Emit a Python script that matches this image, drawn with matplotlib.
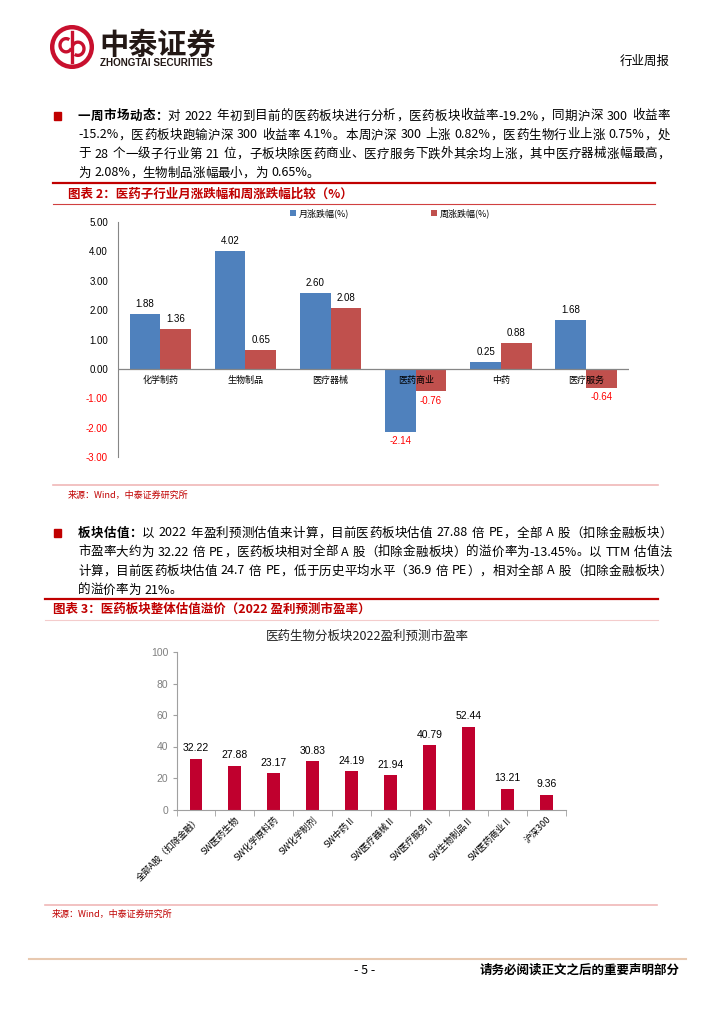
import re
import numpy as np
import matplotlib
matplotlib.use('Agg')
import matplotlib.pyplot as plt
from matplotlib.lines import Line2D
from matplotlib.patches import Circle, Arc, Rectangle

plt.rcParams['font.family'] = ['Noto Sans CJK SC', 'DejaVu Sans']
plt.rcParams['axes.unicode_minus'] = False

# chart 1: sub-sector monthly / weekly change (%)
cats1 = ['化学制药', '生物制品', '医疗器械', '医药商业', '中药', '医疗服务']
month_chg = [1.88, 4.02, 2.60, -2.14, 0.25, 1.68]
week_chg = [1.36, 0.65, 2.08, -0.76, 0.88, -0.64]

# chart 2: 2022 forecast PE by sub-sector
cats2 = ['全部A股（扣除金融）', 'SW医药生物', 'SW化学原料药', 'SW化学制剂', 'SW中药Ⅱ',
         'SW医疗器械Ⅱ', 'SW医疗服务Ⅱ', 'SW生物制品Ⅱ', 'SW医药商业Ⅱ', '沪深300']
pe_2022 = [32.22, 27.88, 23.17, 30.83, 24.19, 21.94, 40.79, 52.44, 13.21, 9.36]

para1 = [
    [('一周市场动态：', 'bold'), ('对 2022 年初到目前的医药板块进行分析，医药板块收益率-19.2%，同期沪深 300 收益率', 'normal')],
    [('-15.2%，医药板块跑输沪深 300 收益率 4.1%。本周沪深 300 上涨 0.82%，医药生物行业上涨 0.75%，处', 'normal')],
    [('于 28 个一级子行业第 21 位，子板块除医药商业、医疗服务下跌外其余均上涨，其中医疗器械涨幅最高，', 'normal')],
    [('为 2.08%，生物制品涨幅最小，为 0.65%。', 'normal')],
]
para2 = [
    [('板块估值：', 'bold'), ('以 2022 年盈利预测估值来计算，目前医药板块估值 27.88 倍 PE，全部 A 股（扣除金融板块）', 'normal')],
    [('市盈率大约为 32.22 倍 PE，医药板块相对全部 A 股（扣除金融板块）的溢价率为-13.45%。以 TTM 估值法', 'normal')],
    [('计算，目前医药板块估值 24.7 倍 PE，低于历史平均水平（36.9 倍 PE），相对全部 A 股（扣除金融板块）', 'normal')],
    [('的溢价率为 21%。', 'normal')],
]

W, H = 724, 1024
RED = '#C00000'
fig = plt.figure(figsize=(7.24, 10.24), dpi=100)
renderer = fig.canvas.get_renderer()


def fx(x):
    return x / W


def fy(y):
    return 1 - y / H


def hline(y, x0, x1, color, lw):
    fig.add_artist(Line2D([fx(x0), fx(x1)], [fy(y), fy(y)], color=color, lw=lw,
                          transform=fig.transFigure))


def text_line(y, x0, x1, parts, size=9, justify=True):
    # place tokens one by one so the line can be justified like the report
    toks = []
    for s, weight in parts:
        for m in re.finditer(r'[A-Za-z0-9.%\-]+| |.', s):
            toks.append((m.group(), weight))
    objs, widths = [], []
    for t, weight in toks:
        if t == ' ':
            objs.append(None)
            widths.append(size * 0.28 * 100 / 72)
            continue
        o = fig.text(0, fy(y), t, fontsize=size, fontweight=weight, va='center', ha='left')
        widths.append(o.get_window_extent(renderer).width)
        objs.append(o)
    gap = 0
    if justify and len(toks) > 1:
        gap = (x1 - x0 - sum(widths)) / (len(toks) - 1)
    x = x0
    for o, w in zip(objs, widths):
        if o is not None:
            o.set_x(fx(x))
        x += w + gap


def bullet(y):
    fig.add_artist(Rectangle((fx(54), fy(y + 4)), 7 / W, 8 / H, color=RED,
                             transform=fig.transFigure))


# header
ax_logo = fig.add_axes([fx(50), fy(69), 44 / W, 44 / H])
ax_logo.set_xlim(-1, 1)
ax_logo.set_ylim(-1, 1)
ax_logo.axis('off')
ax_logo.add_patch(Circle((0, 0), 0.9, fill=False, lw=3.2, color='#C8102E'))
ax_logo.add_patch(Arc((-0.27, 0.08), 0.55, 0.6, theta1=60, theta2=330, lw=2.4, color='#C8102E'))
ax_logo.add_patch(Arc((0.27, -0.08), 0.55, 0.6, theta1=240, theta2=510, lw=2.4, color='#C8102E'))
ax_logo.plot([0, 0], [-0.7, 0.7], color='#C8102E', lw=2.4)
fig.text(fx(99), fy(45), '中泰证券', fontsize=21, fontweight='bold', color='#231815', va='center')
fig.text(fx(100), fy(63.5), 'ZHONGTAI SECURITIES', fontsize=7.1, fontweight='bold',
         family='Liberation Sans', color='#231815', va='center')
fig.text(fx(670), fy(61), '行业周报', fontsize=9, ha='right', va='center')

# paragraph 1
bullet(116)
for i, line in enumerate(para1):
    text_line(116 + 19 * i, 78, 670, line, justify=i < len(para1) - 1)

# figure 2 title
hline(183, 53, 655, RED, 1.6)
fig.text(fx(68), fy(194), '图表 2：医药子行业月涨跌幅和周涨跌幅比较（%）', fontsize=9,
         fontweight='bold', color=RED, va='center')
hline(203.5, 53, 655, '#D04040', 0.8)

ax1 = fig.add_axes([fx(117.7), fy(457), (628.6 - 117.7) / W, (457 - 222) / H])
x = np.arange(len(cats1))
bw = 0.36
ax1.bar(x - bw / 2, month_chg, bw, color='#4F81BD', label='月涨跌幅(%)', zorder=2)
ax1.bar(x + bw / 2, week_chg, bw, color='#C0504D', label='周涨跌幅(%)', zorder=2)
ax1.set_xlim(-0.5, len(cats1) - 0.5)
ax1.set_ylim(-3, 5)
yt = np.arange(-3, 6, 1)
ax1.set_yticks(yt)
ax1.set_yticklabels(['%.2f' % v for v in yt], fontsize=7, family='Liberation Sans')
for lbl, v in zip(ax1.get_yticklabels(), yt):
    if v < 0:
        lbl.set_color('red')
ax1.tick_params(axis='y', length=0, pad=7)
ax1.set_xticks([])
for s in ['top', 'right', 'bottom']:
    ax1.spines[s].set_visible(False)
ax1.spines['left'].set_color('#868686')
ax1.axhline(0, color='#868686', lw=0.9, zorder=3)
for i, c in enumerate(cats1):
    ax1.text(i, -0.4, c, ha='center', va='center', fontsize=6.5, zorder=4)
for xs, vals in [(x - bw / 2, month_chg), (x + bw / 2, week_chg)]:
    for xi, v in zip(xs, vals):
        ax1.annotate('%.2f' % v, (xi, v), xytext=(0, 7 if v >= 0 else -7),
                     textcoords='offset points', ha='center', va='center', fontsize=7,
                     family='Liberation Sans', color='black' if v >= 0 else 'red')
ax1.legend(loc='center', bbox_to_anchor=(fx(390), fy(213)), bbox_transform=fig.transFigure,
           ncol=2, frameon=False, handlelength=0.7, handleheight=0.7, columnspacing=9,
           handletextpad=0.3, fontsize=6.5)

hline(485, 53, 658, '#F0B8B8', 1.2)
fig.text(fx(68), fy(495), '来源：Wind，中泰证券研究所', fontsize=6.5, color=RED, va='center')

# paragraph 2
bullet(533)
for i, line in enumerate(para2):
    text_line(533 + 19 * i, 78, 672, line, justify=i < len(para2) - 1)

# figure 3 title
hline(599, 45, 658, RED, 1.6)
fig.text(fx(53), fy(609), '图表 3：医药板块整体估值溢价（2022 盈利预测市盈率）', fontsize=9,
         fontweight='bold', color=RED, va='center')
hline(620, 45, 658, '#F4CCCC', 0.8)

fig.text(fx(367), fy(636), '医药生物分板块2022盈利预测市盈率', ha='center', va='center',
         fontsize=9, color='#222222')

ax2 = fig.add_axes([fx(176.5), fy(809.5), (566 - 176.5) / W, (809.5 - 652) / H])
x2 = np.arange(len(cats2))
ax2.bar(x2, pe_2022, 0.33, color='#C0002E', zorder=2)
ax2.set_xlim(-0.5, len(cats2) - 0.5)
ax2.set_ylim(0, 100)
ax2.set_yticks(np.arange(0, 101, 20))
ax2.set_yticklabels([str(v) for v in range(0, 101, 20)], family='Liberation Sans')
ax2.tick_params(axis='y', length=3, color='#A0A0A0', labelsize=7.5, labelcolor='#808080', pad=3)
ax2.set_xticks(x2)
ax2.set_xticklabels(cats2, rotation=45, ha='right', rotation_mode='anchor', fontsize=6.5)
ax2.tick_params(axis='x', which='major', length=0, pad=4)
ax2.set_xticks(np.arange(-0.5, len(cats2)), minor=True)
ax2.tick_params(axis='x', which='minor', length=4, color='#A0A0A0')
for s in ['top', 'right']:
    ax2.spines[s].set_visible(False)
for s in ['left', 'bottom']:
    ax2.spines[s].set_color('#A0A0A0')
for xi, v in zip(x2, pe_2022):
    ax2.annotate('%.2f' % v, (xi, v), xytext=(0, 7.5), textcoords='offset points',
                 ha='center', va='center', fontsize=7.5, family='Liberation Sans')

hline(905, 45, 657, '#F0B8B8', 1.2)
fig.text(fx(52), fy(914), '来源：Wind，中泰证券研究所', fontsize=6.5, color=RED, va='center')

# footer
hline(959, 29, 686, '#E8C9B0', 1.5)
fig.text(fx(365), fy(970), '- 5 -', fontsize=9, ha='center', va='center')
fig.text(fx(680), fy(970), '请务必阅读正文之后的重要声明部分', fontsize=9, fontweight='bold',
         ha='right', va='center')

fig.savefig('out.png', dpi=100)
